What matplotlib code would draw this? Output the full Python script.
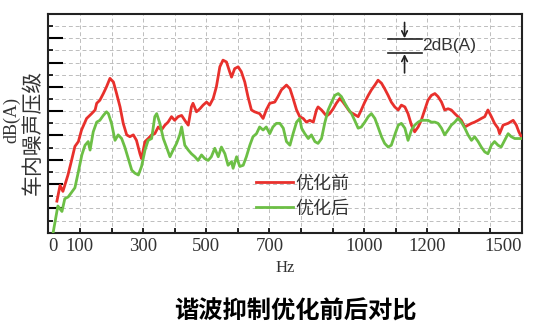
import matplotlib
matplotlib.use('Agg')
import matplotlib.pyplot as plt

plt.rcParams['font.family'] = ['Noto Sans CJK SC', 'DejaVu Sans']

# frequency (Hz) / level (dB(A), relative)
hz_before = [27, 37, 46, 62, 72, 84, 95, 105, 121, 137, 148, 153, 163, 174, 184, 195, 206,
             216, 227, 237, 248, 258, 269, 279, 290, 295, 306, 316, 327, 337, 348, 358,
             369, 379, 390, 400, 411, 422, 432, 443, 453, 458, 469, 480, 490, 501, 511,
             522, 532, 543, 553, 564, 574, 580, 590, 601, 611, 622, 632, 643, 653, 669,
             680, 690, 701, 717, 727, 738, 748, 754, 765, 775, 786, 796, 807, 817, 828,
             839, 849, 854, 865, 881, 891, 902, 912, 923, 933, 944, 955, 965, 981, 991,
             1002, 1013, 1023, 1034, 1044, 1055, 1065, 1076, 1086, 1097, 1108, 1118,
             1129, 1139, 1150, 1160, 1171, 1181, 1192, 1202, 1213, 1224, 1234, 1245,
             1255, 1266, 1276, 1287, 1297, 1308, 1319, 1329, 1340, 1350, 1361, 1371,
             1382, 1392, 1403, 1413, 1424, 1429, 1440, 1456, 1472, 1482, 1490, 1498]
db_before = [5.2, 7.8, 6.8, 9.5, 11.6, 14.2, 15.0, 16.9, 18.8, 19.6, 20.2, 21.3, 21.8,
             22.9, 24.0, 25.4, 24.8, 22.9, 20.7, 18.0, 16.1, 15.8, 16.1, 15.2, 13.0,
             12.2, 15.0, 15.5, 16.1, 16.3, 17.4, 16.9, 17.7, 18.2, 19.1, 18.5, 19.1,
             19.3, 18.5, 17.7, 20.7, 21.3, 19.9, 20.4, 21.0, 21.5, 21.0, 22.1, 24.0,
             27.3, 28.4, 28.1, 26.5, 25.6, 27.0, 27.3, 26.5, 24.8, 22.4, 20.2, 19.9,
             19.6, 18.8, 20.2, 21.3, 21.5, 22.4, 23.5, 24.0, 24.3, 23.7, 22.1, 20.2,
             19.1, 18.8, 18.2, 18.5, 18.2, 20.2, 20.7, 20.2, 19.2, 19.6, 20.4, 21.3,
             22.1, 21.5, 20.7, 19.9, 19.6, 19.1, 20.2, 21.5, 22.6, 23.5, 24.3, 25.1,
             24.6, 23.7, 22.6, 21.5, 20.7, 20.2, 21.0, 20.7, 19.6, 17.7, 16.6, 17.4,
             18.5, 20.2, 21.8, 22.6, 22.9, 22.4, 21.5, 20.2, 20.4, 20.2, 19.6, 19.1,
             18.5, 17.4, 17.7, 18.0, 18.2, 18.5, 18.8, 19.1, 20.2, 19.1, 18.0, 17.2,
             16.3, 17.7, 18.0, 18.5, 17.7, 16.6, 15.8]

hz_after = [15, 30, 43, 52, 63, 74, 84, 94, 106, 116, 126, 132, 142, 153, 163, 174, 184,
            190, 200, 211, 221, 232, 242, 253, 264, 274, 285, 295, 306, 316, 327, 337,
            343, 353, 364, 374, 385, 395, 406, 416, 422, 432, 443, 453, 464, 474, 485,
            495, 506, 516, 527, 538, 548, 559, 569, 580, 585, 596, 606, 617, 627, 638,
            648, 659, 669, 680, 690, 701, 711, 722, 733, 744, 754, 765, 775, 786, 796,
            802, 812, 823, 833, 844, 854, 865, 875, 886, 897, 907, 918, 928, 939, 949,
            960, 970, 981, 991, 1002, 1013, 1023, 1034, 1044, 1055, 1065, 1076, 1086,
            1097, 1108, 1118, 1129, 1139, 1150, 1160, 1171, 1181, 1192, 1202, 1213,
            1224, 1234, 1245, 1255, 1266, 1276, 1287, 1297, 1308, 1319, 1329, 1340,
            1350, 1361, 1371, 1382, 1392, 1403, 1413, 1424, 1434, 1445, 1456, 1466,
            1477, 1487, 1498]
db_after = [0.0, 4.4, 3.5, 5.6, 5.9, 6.7, 7.4, 9.8, 12.8, 14.4, 15.0, 13.6, 16.6, 18.2,
            18.5, 19.3, 19.9, 19.6, 18.0, 15.2, 16.1, 15.5, 14.1, 12.2, 10.3, 9.8, 9.5,
            10.9, 13.6, 15.2, 15.5, 19.1, 19.6, 18.0, 15.5, 14.1, 12.5, 13.6, 14.7,
            16.1, 17.4, 14.4, 13.6, 13.0, 12.5, 11.9, 12.8, 12.2, 11.9, 12.5, 13.9,
            12.5, 14.1, 13.0, 11.1, 11.7, 10.6, 12.5, 10.9, 11.1, 12.5, 14.4, 15.8,
            16.3, 17.4, 16.9, 17.4, 16.3, 17.4, 18.0, 18.0, 17.2, 15.0, 14.4, 16.3,
            18.2, 18.8, 17.2, 16.3, 15.5, 16.1, 15.0, 14.7, 15.5, 18.0, 20.2, 21.5,
            22.6, 22.9, 22.4, 21.3, 20.4, 19.6, 18.5, 17.2, 17.4, 18.2, 19.1, 19.6,
            18.8, 17.4, 15.8, 14.7, 14.1, 14.4, 16.1, 17.7, 18.0, 17.2, 15.2, 16.9,
            17.7, 18.2, 18.5, 18.5, 18.5, 18.2, 18.2, 18.0, 17.2, 16.1, 16.9, 17.7,
            18.2, 18.8, 18.2, 17.2, 16.1, 15.2, 15.8, 15.0, 14.1, 13.3, 13.0, 14.4,
            15.0, 14.4, 14.1, 15.2, 16.3, 15.8, 15.5, 15.5, 15.5]

tick_pos = [0, 100, 300, 500, 700, 1000, 1200, 1500]
tick_txt = ['0', '100', '300', '500', '700', '1000', '1200', '1500']

fig = plt.figure(figsize=(5.4, 3.32), dpi=100)
ax = fig.add_axes([0.0896, 0.299, 0.8771, 0.659])

ax.plot(hz_before, db_before, color='#e8302c', lw=2, label='优化前', zorder=3)
ax.plot(hz_after, db_after, color='#6cbf45', lw=2, label='优化后', zorder=3)

ax.set_xlim(0, 1500)
ax.set_ylim(0, 36)

ax.set_xticks(range(0, 1600, 100))
ax.set_xticklabels([tick_txt[tick_pos.index(v)] if v in tick_pos else ''
                    for v in range(0, 1600, 100)],
                   family='Liberation Serif', fontsize=13.5, color='#333333')
labs = ax.get_xticklabels()
labs[0].set_ha('left')
labs[-1].set_ha('right')
ax.set_xticks([1000], minor=True)
ax.tick_params(axis='x', which='major', direction='in', length=3.5, width=1.2, pad=4)
ax.tick_params(axis='x', which='minor', direction='in', length=8, width=1.5)

ax.set_yticks(range(4, 36, 4))
ax.set_yticks(range(2, 36, 4), minor=True)
ax.set_yticklabels([])
ax.tick_params(axis='y', which='major', direction='in', length=11, width=1.5)
ax.tick_params(axis='y', which='minor', direction='in', length=3.5, width=1.2)

for v in range(100, 1500, 100):
    ax.axvline(v, color='#bdbdbd', lw=0.7, ls=(0, (4, 3)), zorder=1)
for v in range(2, 36, 2):
    ax.axhline(v, color='#bdbdbd', lw=0.7, ls=(0, (4, 3)), zorder=1)

for s in ax.spines.values():
    s.set_linewidth(1.5)
    s.set_color('#222222')

ax.legend(loc='lower left', bbox_to_anchor=(0.405, -0.005), frameon=False,
          fontsize=13, handlelength=2.0, handletextpad=0.15, labelspacing=0.38,
          labelcolor='#333333')

# 2 dB(A) scale marker
ax.plot([1075, 1182], [31.9, 31.9], color='#222222', lw=1.2)
ax.plot([1075, 1182], [29.5, 29.5], color='#222222', lw=1.2)
ax.annotate('', xy=(1128, 32.0), xytext=(1128, 34.6),
            arrowprops=dict(arrowstyle='->', color='#222222', lw=1.2,
                            shrinkA=0, shrinkB=0))
ax.annotate('', xy=(1128, 29.4), xytext=(1128, 26.3),
            arrowprops=dict(arrowstyle='->', color='#222222', lw=1.2,
                            shrinkA=0, shrinkB=0))
ax.text(1183, 30.8, '2dB(A)', family='Liberation Sans', fontsize=12.5,
        color='#333333', va='center', ha='left')

fig.text(12 / 540, 1 - 120 / 332, 'dB(A)', rotation=90, ha='center', va='center',
         family='Liberation Serif', fontsize=13, color='#333333')
fig.text(33 / 540, 1 - 132 / 332, '车内噪声压级', rotation=90, ha='center', va='center',
         fontsize=15, color='#333333')
fig.text(285 / 540, 1 - 268 / 332, 'Hz', ha='center', va='center',
         family='Liberation Serif', fontsize=12, color='#333333')
fig.text(295 / 540, 1 - 312 / 332, '谐波抑制优化前后对比', ha='center', va='center',
         fontsize=17.5, fontweight='bold', color='#000000')

fig.savefig('out.png', dpi=100)
